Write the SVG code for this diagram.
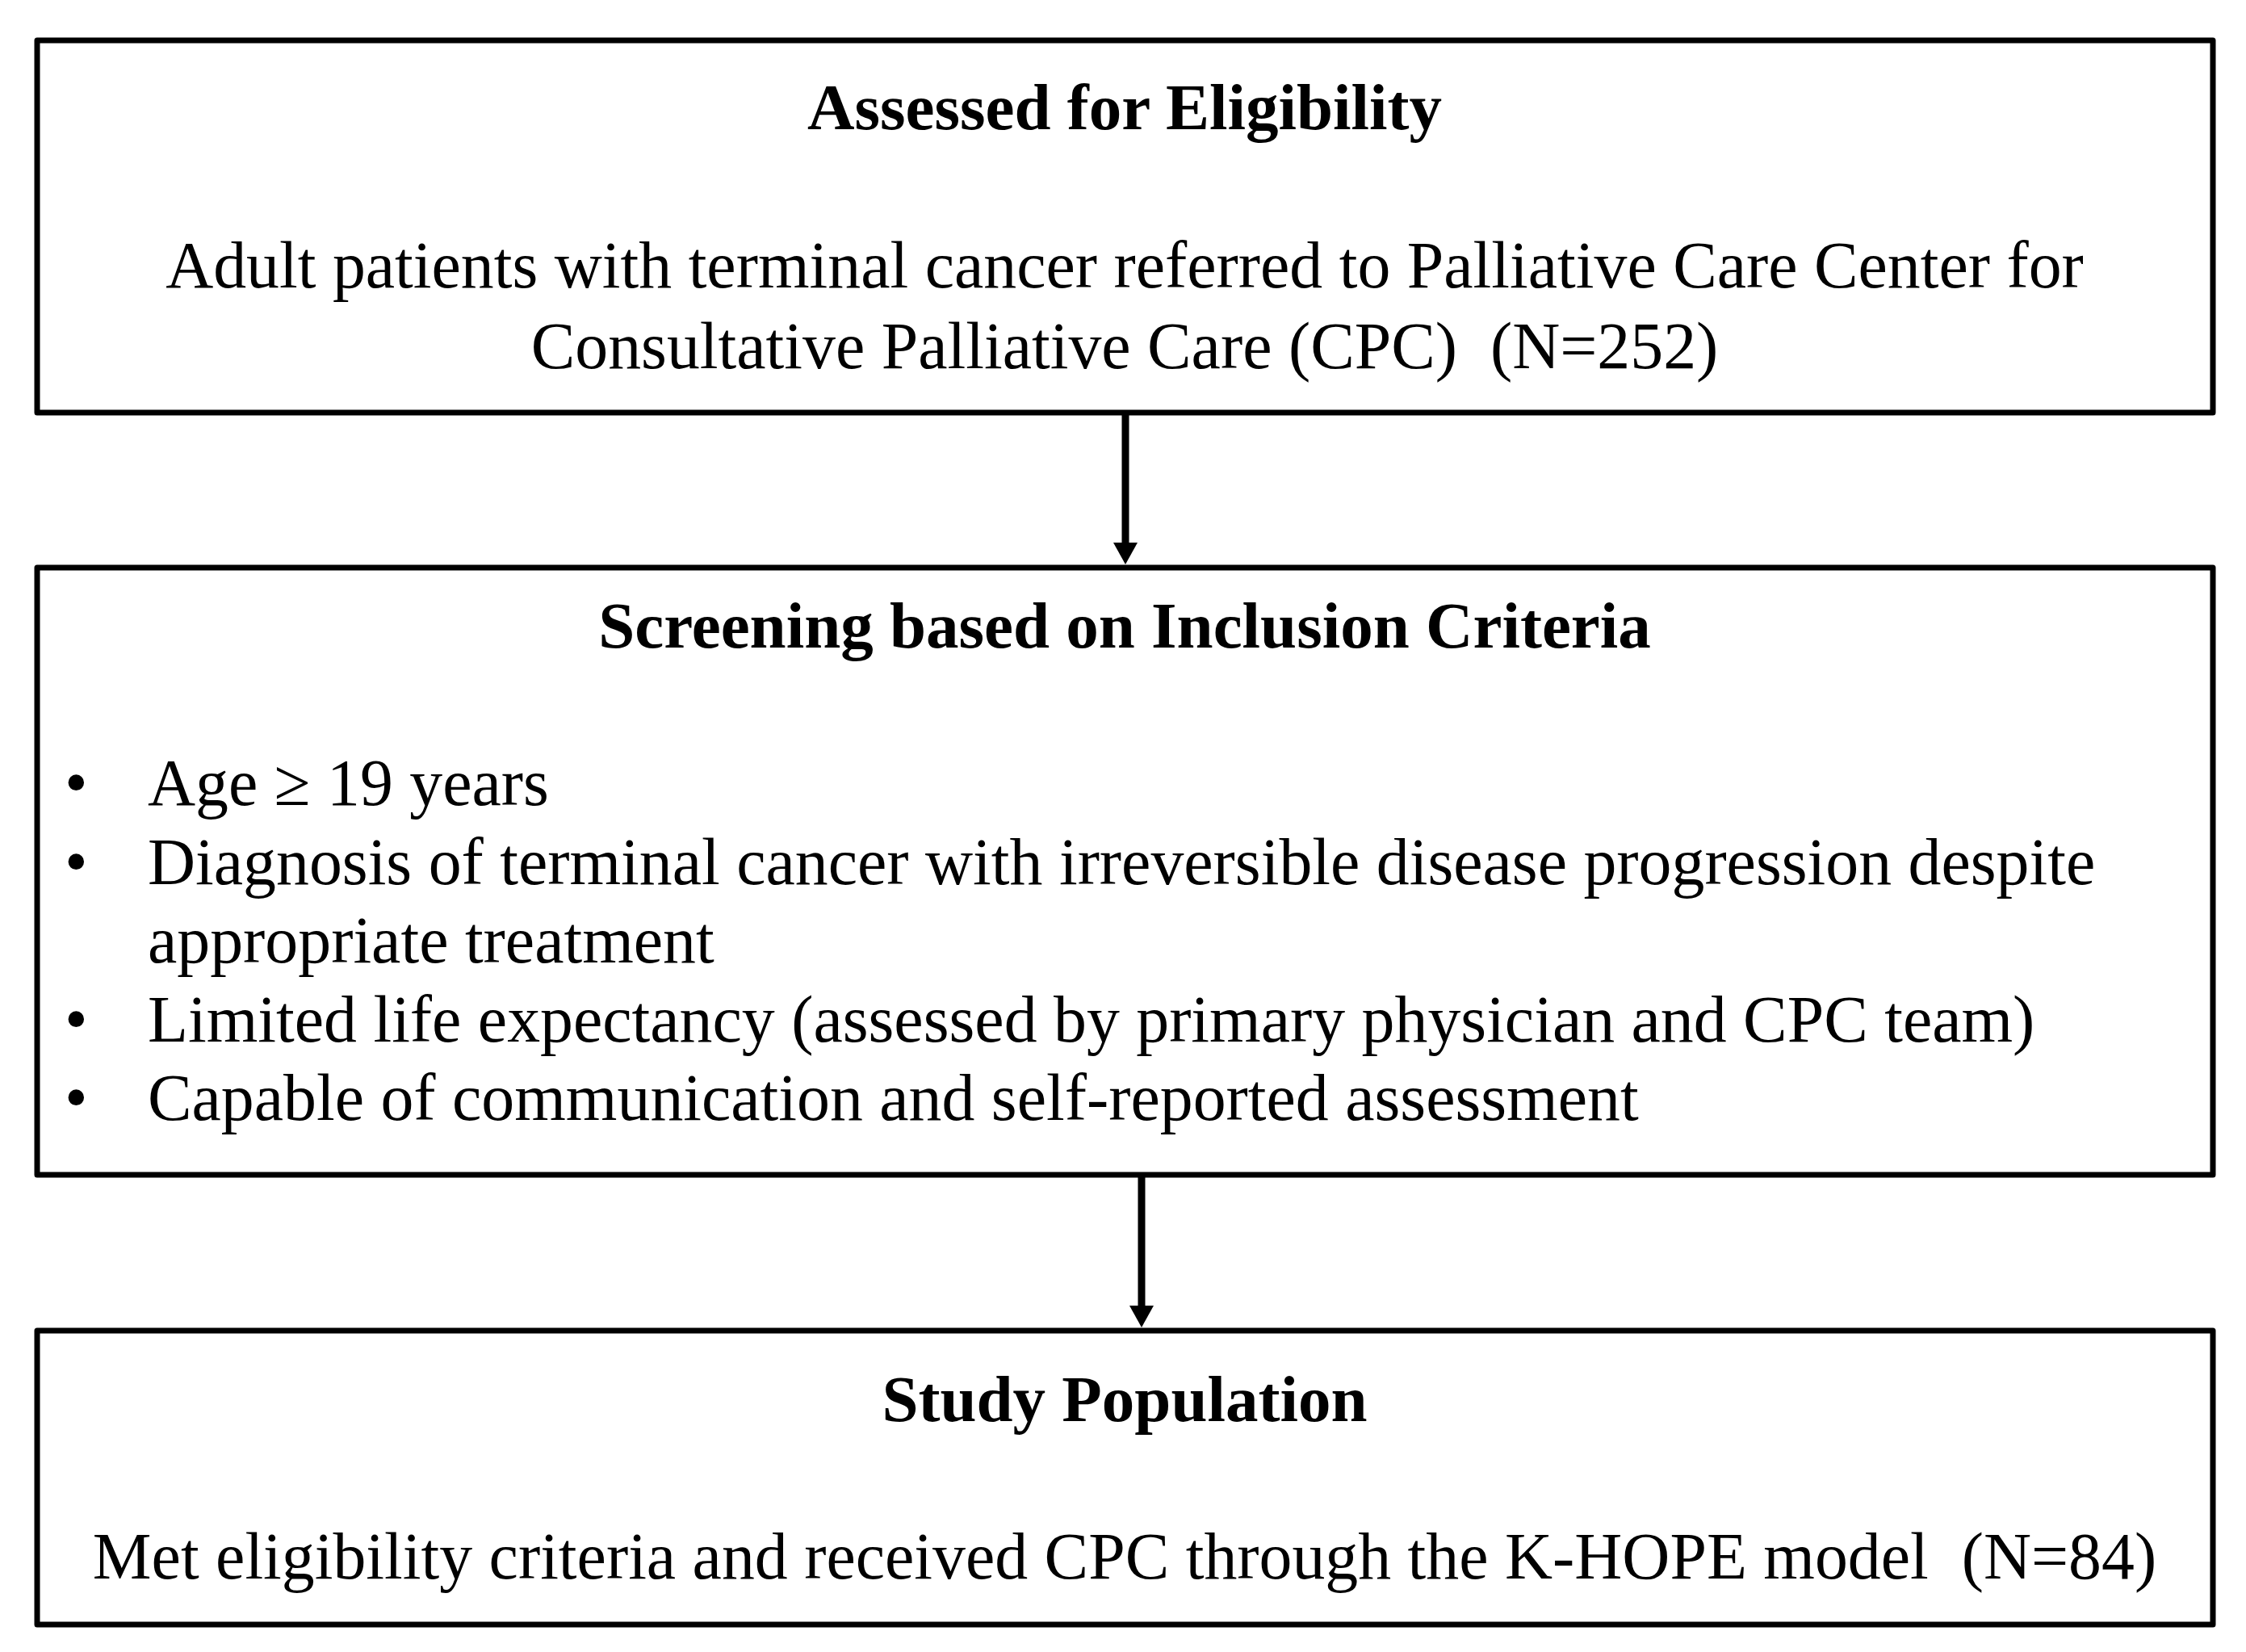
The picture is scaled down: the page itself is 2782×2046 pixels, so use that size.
<svg xmlns="http://www.w3.org/2000/svg" width="2782" height="2046" viewBox="0 0 2782 2046">
<style>
.box{fill:#fff;stroke:#000;stroke-width:7;stroke-linejoin:round}
.t{font-family:"Liberation Serif","Times New Roman",serif;font-size:81.8px;fill:#000}
.c{text-anchor:middle}
.b{font-weight:bold;font-size:81px}
.conn{stroke:#000;stroke-width:9;fill:none}
</style>
<defs>
<marker id="ah" viewBox="0 0 27 30" refX="1" refY="15" markerWidth="27" markerHeight="30" markerUnits="userSpaceOnUse" orient="auto">
<path d="M0,0 L27,15 L0,30 z" fill="#000"/>
</marker>
</defs>
<rect width="2782" height="2046" fill="#fff"/>
<g id="node-eligibility">
<rect class="box" x="46" y="50" width="2695" height="461"/>
<text class="t c b" x="1393" y="160">Assessed for Eligibility</text>
<text class="t c" x="1393" y="356">Adult patients with terminal cancer referred to Palliative Care Center for</text>
<text class="t c" x="1393" y="456" xml:space="preserve">Consultative Palliative Care (CPC)  (N=252)</text>
</g>
<g id="node-screening">
<rect class="box" x="46" y="703" width="2695" height="752"/>
<text class="t c b" x="1393" y="802">Screening based on Inclusion Criteria</text>
<text class="t" x="80" y="997">•</text>
<text class="t" x="183" y="997">Age ≥ 19 years</text>
<text class="t" x="80" y="1095">•</text>
<text class="t" x="183" y="1095">Diagnosis of terminal cancer with irreversible disease progression despite</text>
<text class="t" x="183" y="1192">appropriate treatment</text>
<text class="t" x="80" y="1290">•</text>
<text class="t" x="183" y="1290">Limited life expectancy (assessed by primary physician and CPC team)</text>
<text class="t" x="80" y="1387">•</text>
<text class="t" x="183" y="1387">Capable of communication and self-reported assessment</text>
</g>
<g id="node-population">
<rect class="box" x="46" y="1648" width="2695" height="364"/>
<text class="t c b" x="1393" y="1760">Study Population</text>
<text class="t c" x="1393" y="1955" xml:space="preserve">Met eligibility criteria and received CPC through the K-HOPE model  (N=84)</text>
</g>
<g id="connectors">
<line class="conn" x1="1394" y1="514" x2="1394" y2="673" marker-end="url(#ah)"/>
<line class="conn" x1="1414" y1="1458" x2="1414" y2="1618" marker-end="url(#ah)"/>
</g>
</svg>
